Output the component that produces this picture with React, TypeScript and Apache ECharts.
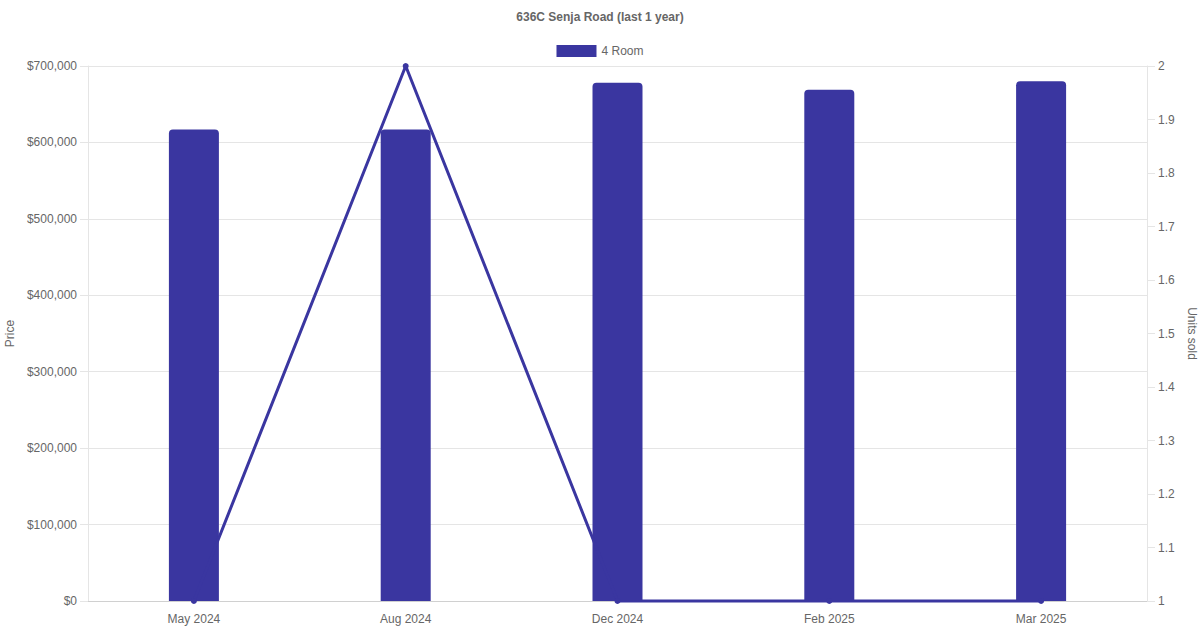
import React, { useEffect, useRef } from 'react';
import * as echarts from 'echarts';

const months = ['May 2024', 'Aug 2024', 'Dec 2024', 'Feb 2025', 'Mar 2025'];
const prices = [617000, 617000, 678000, 669000, 680000];
const unitsSold = [1, 2, 1, 1, 1];

const barColor = '#3a36a0';
const textColor = '#666';
const gridColor = '#e5e5e5';
const font = '"Liberation Sans", Arial, Helvetica, sans-serif';

const App: React.FC = () => {
  const chartRef = useRef<HTMLDivElement>(null);

  useEffect(() => {
    if (!chartRef.current) return;
    const myChart = echarts.init(chartRef.current, null, { renderer: 'svg' });

    const option = {
      animation: false,
      textStyle: { fontFamily: font },
      title: {
        text: '636C Senja Road (last 1 year)',
        left: 'center',
        top: 6,
        textStyle: { fontSize: 12, fontWeight: 'bold', color: textColor, fontFamily: font },
      },
      legend: {
        data: ['4 Room'],
        top: 40,
        left: 'center',
        itemWidth: 40,
        itemHeight: 12,
        icon: 'rect',
        textStyle: { fontSize: 12, color: textColor, fontFamily: font },
      },
      grid: {
        left: 88,
        right: 53,
        top: 66,
        bottom: 29,
        containLabel: false,
        outerBoundsMode: 'none',
      },
      xAxis: {
        type: 'category',
        data: months,
        axisLine: { lineStyle: { color: '#d0d0d0' } },
        axisTick: { show: false },
        axisLabel: { color: textColor, fontSize: 12, margin: 12, fontFamily: font },
      },
      yAxis: [
        {
          type: 'value',
          min: 0,
          max: 700000,
          interval: 100000,
          name: 'Price',
          nameLocation: 'middle',
          nameRotate: 90,
          nameGap: 72,
          nameTextStyle: { color: textColor, fontSize: 12, fontFamily: font },
          axisLine: { show: true, lineStyle: { color: gridColor } },
          axisTick: { show: true, length: 8, lineStyle: { color: gridColor } },
          splitLine: { show: true, lineStyle: { color: gridColor } },
          axisLabel: {
            color: textColor,
            fontSize: 12,
            margin: 11,
            fontFamily: font,
            formatter: (v: number) => '$' + v.toLocaleString('en-US'),
          },
        },
        {
          type: 'value',
          min: 1,
          max: 2,
          interval: 0.1,
          name: 'Units sold',
          nameLocation: 'middle',
          nameRotate: -90,
          nameGap: 36,
          nameTextStyle: { color: textColor, fontSize: 12, fontFamily: font },
          axisLine: { show: true, lineStyle: { color: gridColor } },
          axisTick: { show: true, length: 8, lineStyle: { color: gridColor } },
          splitLine: { show: false },
          axisLabel: {
            color: textColor,
            fontSize: 12,
            margin: 11,
            fontFamily: font,
            formatter: (v: number) => String(Math.round(v * 10) / 10),
          },
        },
      ],
      series: [
        {
          name: 'Units',
          type: 'line',
          yAxisIndex: 1,
          data: unitsSold,
          symbol: 'circle',
          symbolSize: 6,
          clip: false,
          lineStyle: { color: barColor, width: 3 },
          itemStyle: { color: barColor },
        },
        {
          name: '4 Room',
          type: 'bar',
          data: prices,
          barWidth: 50,
          itemStyle: { color: barColor, borderRadius: [4, 4, 0, 0] },
        },
      ],
    };

    myChart.setOption(option);
    return () => {
      myChart.dispose();
    };
  }, []);

  return (
    <div
      ref={chartRef}
      style={{ position: 'fixed', left: 0, top: 0, width: 1200, height: 630, background: '#fff' }}
    ></div>
  );
};

export default App;
